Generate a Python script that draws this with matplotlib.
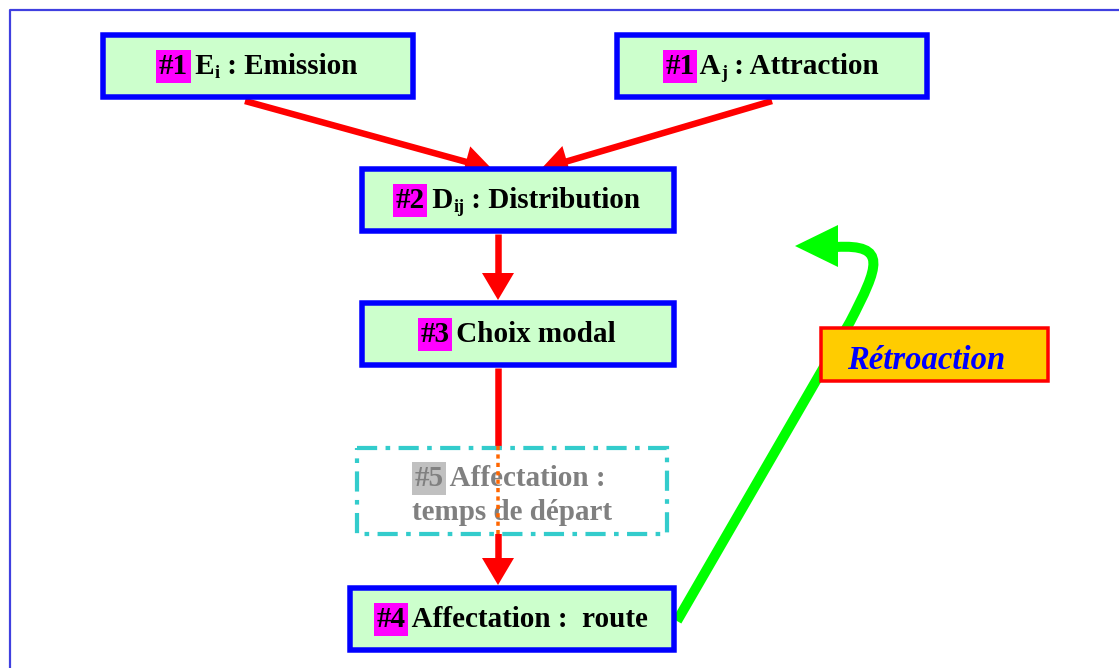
import matplotlib
matplotlib.use("Agg")
import matplotlib.pyplot as plt
import numpy as np
from matplotlib.patches import Rectangle, Polygon, PathPatch
from matplotlib.path import Path

W, H = 1119, 668
DPI = 100
PX = 72.0 / DPI  # points per pixel

# ---- content ----
box_labels = {
    "emission": [("#1", "tag"), (" E", "n"), ("i", "sub"), (" : Emission", "n")],
    "attraction": [("#1", "tag"), (" A", "n"), ("j", "sub"), (" : Attraction", "n")],
    "distribution": [("#2", "tag"), (" D", "n"), ("ij", "sub"), (" : Distribution", "n")],
    "modal": [("#3", "tag"), (" Choix modal", "n")],
    "route": [("#4", "tag"), (" Affectation :  route", "n")],
}
opt_line1 = [("#5", "gtag"), (" Affectation :", "g")]
opt_line2 = [("temps de départ", "g")]
feedback_label = "Rétroaction"

# geometry (outer edges, pixels): x0, x1, y0, y1
boxes = {
    "emission": (100, 416, 32, 100),
    "attraction": (614, 930, 32, 100),
    "distribution": (359, 677, 166, 234),
    "modal": (359, 677, 300, 368),
    "route": (347, 677, 585, 653),
}
opt_box = (355, 669, 446, 536)
fb_box = (819, 1050, 326, 383)

fig = plt.figure(figsize=(W / DPI, H / DPI), dpi=DPI)
ax = fig.add_axes([0, 0, 1, 1])
ax.set_xlim(0, W)
ax.set_ylim(H, 0)
ax.axis("off")
renderer = fig.canvas.get_renderer()

SERIF = ["Liberation Serif", "DejaVu Serif"]
FS = 21

# page frame
ax.plot([10, 10, W], [H, 9.5, 9.5], color="#4040E0", lw=2.2 * PX, solid_capstyle="butt", zorder=1)

BLUE_LW = 5.5


def draw_box(x0, x1, y0, y1, face, edge, lw_px, ls="-", z=3):
    r = Rectangle((x0 + lw_px / 2, y0 + lw_px / 2), x1 - x0 - lw_px, y1 - y0 - lw_px,
                  facecolor=face, edgecolor=edge, lw=lw_px * PX, linestyle=ls, zorder=z,
                  joinstyle="miter")
    ax.add_patch(r)


def piece_props(kind):
    p = dict(family=SERIF, fontweight="bold", fontsize=FS, color="black")
    if kind == "tag":
        p["bbox"] = dict(facecolor="#FF00FF", edgecolor="none", pad=1.8)
    elif kind == "gtag":
        p["color"] = "#808080"
        p["bbox"] = dict(facecolor="#C0C0C0", edgecolor="none", pad=1.8)
    elif kind == "g":
        p["color"] = "#808080"
    elif kind == "sub":
        p["fontsize"] = FS * 0.62
    return p


def rich_line(pieces, xc, yb, z=6):
    objs = []
    for txt, kind in pieces:
        t = ax.text(0, yb + (4 if kind == "sub" else 0), txt, ha="left", va="baseline",
                    zorder=z, **piece_props(kind))
        objs.append(t)
    widths = [t.get_window_extent(renderer=renderer).width for t in objs]
    total = sum(widths)
    x = xc - total / 2
    for t, w in zip(objs, widths):
        t.set_x(x)
        x += w


for key, (x0, x1, y0, y1) in boxes.items():
    draw_box(x0, x1, y0, y1, "#CCFFCC", "#0000FF", BLUE_LW)
    rich_line(box_labels[key], (x0 + x1) / 2, (y0 + y1) / 2 + 8)

# optional dashed box (covers the red link)
x0, x1, y0, y1 = opt_box
draw_box(x0, x1, y0, y1, "white", "#33CCCC", 4.2, ls=(0, (4.8, 2.0, 1.1, 2.0)), z=4)
rich_line(opt_line1, 510, 486, z=5)
rich_line(opt_line2, 512, 520, z=5)

RED = "#FF0000"


def arrow(p0, p1, z=2, lw=6.5, hl=27, hw=16):
    p0 = np.array(p0, float)
    p1 = np.array(p1, float)
    d = p1 - p0
    d /= np.hypot(*d)
    n = np.array([-d[1], d[0]])
    base = p1 - d * hl
    ax.plot([p0[0], base[0] + d[0] * 2], [p0[1], base[1] + d[1] * 2], color=RED,
            lw=lw * PX, solid_capstyle="butt", zorder=z)
    ax.add_patch(Polygon([p1, base + n * hw, base - n * hw], closed=True,
                         facecolor=RED, edgecolor="none", zorder=z))


arrow((245, 101), (492, 169))
arrow((772, 101), (541, 169))
arrow((498, 234), (498, 300))
arrow((498, 368), (498, 585))
# orange dotted overlay
ax.plot([498, 498], [446, 534], color="#FF6600", lw=3.5 * PX, linestyle=(0, (1.2, 1.2)), zorder=7)

# feedback green curve
GREEN = "#00FF00"
verts = [(677, 621), (850, 322), (879, 266), (888, 244), (836, 247)]
codes = [Path.MOVETO, Path.LINETO, Path.CURVE4, Path.CURVE4, Path.CURVE4]
ax.add_patch(PathPatch(Path(verts, codes), facecolor="none", edgecolor=GREEN,
                       lw=10 * PX, capstyle="butt", zorder=2))
ax.add_patch(Polygon([(795, 246), (838, 225), (838, 267)], closed=True,
                     facecolor=GREEN, edgecolor="none", zorder=2))

# feedback label
x0, x1, y0, y1 = fb_box
draw_box(x0, x1, y0, y1, "#FFCC00", "#FF0000", 3.5, z=3)
ax.text(926, 369, feedback_label, ha="center", va="baseline", family=SERIF,
        fontweight="bold", style="italic", fontsize=FS + 2.5, color="#0000FF", zorder=4)

fig.savefig("out.png", dpi=DPI)
